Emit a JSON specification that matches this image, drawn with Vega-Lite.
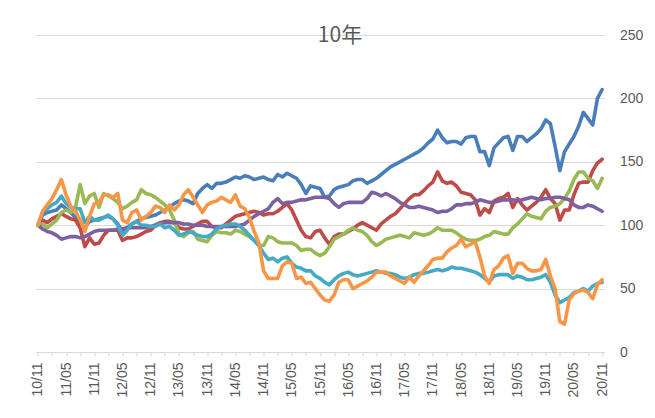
{
"$schema": "https://vega.github.io/schema/vega-lite/v6.json",
"width": 569, "height": 317,
"autosize": {"type": "none"},
"padding": {"left": 35.5, "top": 35, "right": 50.5, "bottom": 66},
"background": "white",
"config": {"view": {"stroke": null}, "font": "Liberation Sans"},
"title": {"text": "10年", "font": "Noto Sans CJK JP", "fontSize": 21, "fontWeight": "normal", "color": "#595959", "anchor": "middle", "baseline": "bottom", "offset": -7, "dx": 20, "dy": 32},
"data": {"values": [
{"d":"10/11","s":"a","v":100},{"d":"10/12","s":"a","v":108},
{"d":"11/01","s":"a","v":110},{"d":"11/02","s":"a","v":111},{"d":"11/03","s":"a","v":112},{"d":"11/04","s":"a","v":116},{"d":"11/05","s":"a","v":113},{"d":"11/06","s":"a","v":110},{"d":"11/07","s":"a","v":106},{"d":"11/08","s":"a","v":100},{"d":"11/09","s":"a","v":98},{"d":"11/10","s":"a","v":103},{"d":"11/11","s":"a","v":104},{"d":"11/12","s":"a","v":105},
{"d":"12/01","s":"a","v":106},{"d":"12/02","s":"a","v":107},{"d":"12/03","s":"a","v":105},{"d":"12/04","s":"a","v":101},{"d":"12/05","s":"a","v":95},{"d":"12/06","s":"a","v":98},{"d":"12/07","s":"a","v":101},{"d":"12/08","s":"a","v":103},{"d":"12/09","s":"a","v":105},{"d":"12/10","s":"a","v":106},{"d":"12/11","s":"a","v":107},{"d":"12/12","s":"a","v":108},
{"d":"13/01","s":"a","v":110},{"d":"13/02","s":"a","v":112},{"d":"13/03","s":"a","v":114},{"d":"13/04","s":"a","v":117},{"d":"13/05","s":"a","v":119},{"d":"13/06","s":"a","v":120},{"d":"13/07","s":"a","v":119},{"d":"13/08","s":"a","v":117},{"d":"13/09","s":"a","v":125},{"d":"13/10","s":"a","v":129},{"d":"13/11","s":"a","v":132},{"d":"13/12","s":"a","v":129},
{"d":"14/01","s":"a","v":133},{"d":"14/02","s":"a","v":133},{"d":"14/03","s":"a","v":134},{"d":"14/04","s":"a","v":136},{"d":"14/05","s":"a","v":138},{"d":"14/06","s":"a","v":137},{"d":"14/07","s":"a","v":139},{"d":"14/08","s":"a","v":138},{"d":"14/09","s":"a","v":136},{"d":"14/10","s":"a","v":137},{"d":"14/11","s":"a","v":138},{"d":"14/12","s":"a","v":136},
{"d":"15/01","s":"a","v":135},{"d":"15/02","s":"a","v":140},{"d":"15/03","s":"a","v":138},{"d":"15/04","s":"a","v":141},{"d":"15/05","s":"a","v":139},{"d":"15/06","s":"a","v":137},{"d":"15/07","s":"a","v":132},{"d":"15/08","s":"a","v":125},{"d":"15/09","s":"a","v":131},{"d":"15/10","s":"a","v":130},{"d":"15/11","s":"a","v":129},{"d":"15/12","s":"a","v":122},
{"d":"16/01","s":"a","v":123},{"d":"16/02","s":"a","v":128},{"d":"16/03","s":"a","v":130},{"d":"16/04","s":"a","v":131},{"d":"16/05","s":"a","v":132},{"d":"16/06","s":"a","v":135},{"d":"16/07","s":"a","v":136},{"d":"16/08","s":"a","v":136},{"d":"16/09","s":"a","v":133},{"d":"16/10","s":"a","v":135},{"d":"16/11","s":"a","v":137},{"d":"16/12","s":"a","v":140},
{"d":"17/01","s":"a","v":143},{"d":"17/02","s":"a","v":146},{"d":"17/03","s":"a","v":148},{"d":"17/04","s":"a","v":150},{"d":"17/05","s":"a","v":152},{"d":"17/06","s":"a","v":154},{"d":"17/07","s":"a","v":156},{"d":"17/08","s":"a","v":158},{"d":"17/09","s":"a","v":161},{"d":"17/10","s":"a","v":165},{"d":"17/11","s":"a","v":168},{"d":"17/12","s":"a","v":175},
{"d":"18/01","s":"a","v":169},{"d":"18/02","s":"a","v":165},{"d":"18/03","s":"a","v":166},{"d":"18/04","s":"a","v":166},{"d":"18/05","s":"a","v":164},{"d":"18/06","s":"a","v":169},{"d":"18/07","s":"a","v":170},{"d":"18/08","s":"a","v":170},{"d":"18/09","s":"a","v":158},{"d":"18/10","s":"a","v":158},{"d":"18/11","s":"a","v":147},{"d":"18/12","s":"a","v":161},
{"d":"19/01","s":"a","v":165},{"d":"19/02","s":"a","v":169},{"d":"19/03","s":"a","v":170},{"d":"19/04","s":"a","v":159},{"d":"19/05","s":"a","v":170},{"d":"19/06","s":"a","v":170},{"d":"19/07","s":"a","v":166},{"d":"19/08","s":"a","v":169},{"d":"19/09","s":"a","v":172},{"d":"19/10","s":"a","v":176},{"d":"19/11","s":"a","v":183},{"d":"19/12","s":"a","v":180},
{"d":"20/01","s":"a","v":162},{"d":"20/02","s":"a","v":143},{"d":"20/03","s":"a","v":158},{"d":"20/04","s":"a","v":164},{"d":"20/05","s":"a","v":170},{"d":"20/06","s":"a","v":178},{"d":"20/07","s":"a","v":189},{"d":"20/08","s":"a","v":184},{"d":"20/09","s":"a","v":179},{"d":"20/10","s":"a","v":200},{"d":"20/11","s":"a","v":207},
{"d":"10/11","s":"b","v":100},{"d":"10/12","s":"b","v":104},
{"d":"11/01","s":"b","v":102},{"d":"11/02","s":"b","v":105},{"d":"11/03","s":"b","v":107},{"d":"11/04","s":"b","v":109},{"d":"11/05","s":"b","v":107},{"d":"11/06","s":"b","v":105},{"d":"11/07","s":"b","v":104},{"d":"11/08","s":"b","v":98},{"d":"11/09","s":"b","v":83},{"d":"11/10","s":"b","v":90},{"d":"11/11","s":"b","v":85},{"d":"11/12","s":"b","v":86},
{"d":"12/01","s":"b","v":92},{"d":"12/02","s":"b","v":96},{"d":"12/03","s":"b","v":96},{"d":"12/04","s":"b","v":96},{"d":"12/05","s":"b","v":88},{"d":"12/06","s":"b","v":90},{"d":"12/07","s":"b","v":90},{"d":"12/08","s":"b","v":91},{"d":"12/09","s":"b","v":93},{"d":"12/10","s":"b","v":95},{"d":"12/11","s":"b","v":96},{"d":"12/12","s":"b","v":100},
{"d":"13/01","s":"b","v":102},{"d":"13/02","s":"b","v":103},{"d":"13/03","s":"b","v":103},{"d":"13/04","s":"b","v":102},{"d":"13/05","s":"b","v":98},{"d":"13/06","s":"b","v":97},{"d":"13/07","s":"b","v":97},{"d":"13/08","s":"b","v":99},{"d":"13/09","s":"b","v":101},{"d":"13/10","s":"b","v":103},{"d":"13/11","s":"b","v":103},{"d":"13/12","s":"b","v":99},
{"d":"14/01","s":"b","v":98},{"d":"14/02","s":"b","v":98},{"d":"14/03","s":"b","v":101},{"d":"14/04","s":"b","v":104},{"d":"14/05","s":"b","v":107},{"d":"14/06","s":"b","v":108},{"d":"14/07","s":"b","v":109},{"d":"14/08","s":"b","v":110},{"d":"14/09","s":"b","v":111},{"d":"14/10","s":"b","v":110},{"d":"14/11","s":"b","v":108},{"d":"14/12","s":"b","v":109},
{"d":"15/01","s":"b","v":109},{"d":"15/02","s":"b","v":111},{"d":"15/03","s":"b","v":114},{"d":"15/04","s":"b","v":117},{"d":"15/05","s":"b","v":112},{"d":"15/06","s":"b","v":104},{"d":"15/07","s":"b","v":96},{"d":"15/08","s":"b","v":91},{"d":"15/09","s":"b","v":90},{"d":"15/10","s":"b","v":95},{"d":"15/11","s":"b","v":96},{"d":"15/12","s":"b","v":90},
{"d":"16/01","s":"b","v":85},{"d":"16/02","s":"b","v":91},{"d":"16/03","s":"b","v":93},{"d":"16/04","s":"b","v":93},{"d":"16/05","s":"b","v":95},{"d":"16/06","s":"b","v":97},{"d":"16/07","s":"b","v":100},{"d":"16/08","s":"b","v":102},{"d":"16/09","s":"b","v":100},{"d":"16/10","s":"b","v":98},{"d":"16/11","s":"b","v":96},{"d":"16/12","s":"b","v":101},
{"d":"17/01","s":"b","v":104},{"d":"17/02","s":"b","v":107},{"d":"17/03","s":"b","v":109},{"d":"17/04","s":"b","v":113},{"d":"17/05","s":"b","v":117},{"d":"17/06","s":"b","v":121},{"d":"17/07","s":"b","v":124},{"d":"17/08","s":"b","v":124},{"d":"17/09","s":"b","v":127},{"d":"17/10","s":"b","v":131},{"d":"17/11","s":"b","v":134},{"d":"17/12","s":"b","v":142},
{"d":"18/01","s":"b","v":135},{"d":"18/02","s":"b","v":133},{"d":"18/03","s":"b","v":134},{"d":"18/04","s":"b","v":131},{"d":"18/05","s":"b","v":126},{"d":"18/06","s":"b","v":125},{"d":"18/07","s":"b","v":124},{"d":"18/08","s":"b","v":120},{"d":"18/09","s":"b","v":108},{"d":"18/10","s":"b","v":113},{"d":"18/11","s":"b","v":110},{"d":"18/12","s":"b","v":119},
{"d":"19/01","s":"b","v":121},{"d":"19/02","s":"b","v":122},{"d":"19/03","s":"b","v":125},{"d":"19/04","s":"b","v":114},{"d":"19/05","s":"b","v":121},{"d":"19/06","s":"b","v":116},{"d":"19/07","s":"b","v":112},{"d":"19/08","s":"b","v":115},{"d":"19/09","s":"b","v":118},{"d":"19/10","s":"b","v":122},{"d":"19/11","s":"b","v":128},{"d":"19/12","s":"b","v":121},
{"d":"20/01","s":"b","v":117},{"d":"20/02","s":"b","v":104},{"d":"20/03","s":"b","v":112},{"d":"20/04","s":"b","v":112},{"d":"20/05","s":"b","v":124},{"d":"20/06","s":"b","v":133},{"d":"20/07","s":"b","v":134},{"d":"20/08","s":"b","v":134},{"d":"20/09","s":"b","v":143},{"d":"20/10","s":"b","v":149},{"d":"20/11","s":"b","v":152},
{"d":"10/11","s":"c","v":100},{"d":"10/12","s":"c","v":101},
{"d":"11/01","s":"c","v":98},{"d":"11/02","s":"c","v":101},{"d":"11/03","s":"c","v":104},{"d":"11/04","s":"c","v":110},{"d":"11/05","s":"c","v":112},{"d":"11/06","s":"c","v":110},{"d":"11/07","s":"c","v":114},{"d":"11/08","s":"c","v":132},{"d":"11/09","s":"c","v":117},{"d":"11/10","s":"c","v":123},{"d":"11/11","s":"c","v":125},{"d":"11/12","s":"c","v":114},
{"d":"12/01","s":"c","v":125},{"d":"12/02","s":"c","v":123},{"d":"12/03","s":"c","v":121},{"d":"12/04","s":"c","v":118},{"d":"12/05","s":"c","v":113},{"d":"12/06","s":"c","v":115},{"d":"12/07","s":"c","v":118},{"d":"12/08","s":"c","v":120},{"d":"12/09","s":"c","v":128},{"d":"12/10","s":"c","v":125},{"d":"12/11","s":"c","v":124},{"d":"12/12","s":"c","v":122},
{"d":"13/01","s":"c","v":119},{"d":"13/02","s":"c","v":116},{"d":"13/03","s":"c","v":112},{"d":"13/04","s":"c","v":104},{"d":"13/05","s":"c","v":93},{"d":"13/06","s":"c","v":91},{"d":"13/07","s":"c","v":94},{"d":"13/08","s":"c","v":95},{"d":"13/09","s":"c","v":89},{"d":"13/10","s":"c","v":88},{"d":"13/11","s":"c","v":87},{"d":"13/12","s":"c","v":92},
{"d":"14/01","s":"c","v":95},{"d":"14/02","s":"c","v":94},{"d":"14/03","s":"c","v":94},{"d":"14/04","s":"c","v":93},{"d":"14/05","s":"c","v":96},{"d":"14/06","s":"c","v":95},{"d":"14/07","s":"c","v":93},{"d":"14/08","s":"c","v":91},{"d":"14/09","s":"c","v":88},{"d":"14/10","s":"c","v":84},{"d":"14/11","s":"c","v":84},{"d":"14/12","s":"c","v":91},
{"d":"15/01","s":"c","v":90},{"d":"15/02","s":"c","v":87},{"d":"15/03","s":"c","v":86},{"d":"15/04","s":"c","v":86},{"d":"15/05","s":"c","v":86},{"d":"15/06","s":"c","v":84},{"d":"15/07","s":"c","v":80},{"d":"15/08","s":"c","v":81},{"d":"15/09","s":"c","v":81},{"d":"15/10","s":"c","v":78},{"d":"15/11","s":"c","v":76},{"d":"15/12","s":"c","v":78},
{"d":"16/01","s":"c","v":83},{"d":"16/02","s":"c","v":89},{"d":"16/03","s":"c","v":91},{"d":"16/04","s":"c","v":93},{"d":"16/05","s":"c","v":96},{"d":"16/06","s":"c","v":98},{"d":"16/07","s":"c","v":96},{"d":"16/08","s":"c","v":95},{"d":"16/09","s":"c","v":92},{"d":"16/10","s":"c","v":87},{"d":"16/11","s":"c","v":84},{"d":"16/12","s":"c","v":86},
{"d":"17/01","s":"c","v":89},{"d":"17/02","s":"c","v":90},{"d":"17/03","s":"c","v":91},{"d":"17/04","s":"c","v":92},{"d":"17/05","s":"c","v":91},{"d":"17/06","s":"c","v":90},{"d":"17/07","s":"c","v":94},{"d":"17/08","s":"c","v":93},{"d":"17/09","s":"c","v":92},{"d":"17/10","s":"c","v":93},{"d":"17/11","s":"c","v":95},{"d":"17/12","s":"c","v":98},
{"d":"18/01","s":"c","v":96},{"d":"18/02","s":"c","v":96},{"d":"18/03","s":"c","v":96},{"d":"18/04","s":"c","v":94},{"d":"18/05","s":"c","v":91},{"d":"18/06","s":"c","v":89},{"d":"18/07","s":"c","v":88},{"d":"18/08","s":"c","v":88},{"d":"18/09","s":"c","v":89},{"d":"18/10","s":"c","v":91},{"d":"18/11","s":"c","v":92},{"d":"18/12","s":"c","v":95},
{"d":"19/01","s":"c","v":94},{"d":"19/02","s":"c","v":93},{"d":"19/03","s":"c","v":93},{"d":"19/04","s":"c","v":98},{"d":"19/05","s":"c","v":101},{"d":"19/06","s":"c","v":105},{"d":"19/07","s":"c","v":109},{"d":"19/08","s":"c","v":107},{"d":"19/09","s":"c","v":106},{"d":"19/10","s":"c","v":105},{"d":"19/11","s":"c","v":111},{"d":"19/12","s":"c","v":114},
{"d":"20/01","s":"c","v":115},{"d":"20/02","s":"c","v":117},{"d":"20/03","s":"c","v":121},{"d":"20/04","s":"c","v":127},{"d":"20/05","s":"c","v":136},{"d":"20/06","s":"c","v":142},{"d":"20/07","s":"c","v":142},{"d":"20/08","s":"c","v":137},{"d":"20/09","s":"c","v":135},{"d":"20/10","s":"c","v":129},{"d":"20/11","s":"c","v":137},
{"d":"10/11","s":"d","v":100},{"d":"10/12","s":"d","v":97},
{"d":"11/01","s":"d","v":95},{"d":"11/02","s":"d","v":94},{"d":"11/03","s":"d","v":92},{"d":"11/04","s":"d","v":89},{"d":"11/05","s":"d","v":90},{"d":"11/06","s":"d","v":91},{"d":"11/07","s":"d","v":91},{"d":"11/08","s":"d","v":90},{"d":"11/09","s":"d","v":91},{"d":"11/10","s":"d","v":93},{"d":"11/11","s":"d","v":95},{"d":"11/12","s":"d","v":96},
{"d":"12/01","s":"d","v":96},{"d":"12/02","s":"d","v":96},{"d":"12/03","s":"d","v":96},{"d":"12/04","s":"d","v":97},{"d":"12/05","s":"d","v":97},{"d":"12/06","s":"d","v":98},{"d":"12/07","s":"d","v":98},{"d":"12/08","s":"d","v":98},{"d":"12/09","s":"d","v":98},{"d":"12/10","s":"d","v":98},{"d":"12/11","s":"d","v":99},{"d":"12/12","s":"d","v":100},
{"d":"13/01","s":"d","v":101},{"d":"13/02","s":"d","v":102},{"d":"13/03","s":"d","v":102},{"d":"13/04","s":"d","v":102},{"d":"13/05","s":"d","v":102},{"d":"13/06","s":"d","v":101},{"d":"13/07","s":"d","v":101},{"d":"13/08","s":"d","v":100},{"d":"13/09","s":"d","v":100},{"d":"13/10","s":"d","v":100},{"d":"13/11","s":"d","v":99},{"d":"13/12","s":"d","v":99},
{"d":"14/01","s":"d","v":99},{"d":"14/02","s":"d","v":99},{"d":"14/03","s":"d","v":99},{"d":"14/04","s":"d","v":99},{"d":"14/05","s":"d","v":99},{"d":"14/06","s":"d","v":100},{"d":"14/07","s":"d","v":101},{"d":"14/08","s":"d","v":104},{"d":"14/09","s":"d","v":107},{"d":"14/10","s":"d","v":109},{"d":"14/11","s":"d","v":111},{"d":"14/12","s":"d","v":113},
{"d":"15/01","s":"d","v":118},{"d":"15/02","s":"d","v":121},{"d":"15/03","s":"d","v":117},{"d":"15/04","s":"d","v":118},{"d":"15/05","s":"d","v":118},{"d":"15/06","s":"d","v":119},{"d":"15/07","s":"d","v":120},{"d":"15/08","s":"d","v":120},{"d":"15/09","s":"d","v":121},{"d":"15/10","s":"d","v":122},{"d":"15/11","s":"d","v":122},{"d":"15/12","s":"d","v":122},
{"d":"16/01","s":"d","v":121},{"d":"16/02","s":"d","v":117},{"d":"16/03","s":"d","v":114},{"d":"16/04","s":"d","v":117},{"d":"16/05","s":"d","v":118},{"d":"16/06","s":"d","v":118},{"d":"16/07","s":"d","v":118},{"d":"16/08","s":"d","v":118},{"d":"16/09","s":"d","v":121},{"d":"16/10","s":"d","v":126},{"d":"16/11","s":"d","v":125},{"d":"16/12","s":"d","v":123},
{"d":"17/01","s":"d","v":125},{"d":"17/02","s":"d","v":123},{"d":"17/03","s":"d","v":121},{"d":"17/04","s":"d","v":118},{"d":"17/05","s":"d","v":116},{"d":"17/06","s":"d","v":114},{"d":"17/07","s":"d","v":114},{"d":"17/08","s":"d","v":115},{"d":"17/09","s":"d","v":114},{"d":"17/10","s":"d","v":113},{"d":"17/11","s":"d","v":112},{"d":"17/12","s":"d","v":110},
{"d":"18/01","s":"d","v":111},{"d":"18/02","s":"d","v":111},{"d":"18/03","s":"d","v":113},{"d":"18/04","s":"d","v":116},{"d":"18/05","s":"d","v":116},{"d":"18/06","s":"d","v":117},{"d":"18/07","s":"d","v":117},{"d":"18/08","s":"d","v":118},{"d":"18/09","s":"d","v":120},{"d":"18/10","s":"d","v":119},{"d":"18/11","s":"d","v":118},{"d":"18/12","s":"d","v":118},
{"d":"19/01","s":"d","v":119},{"d":"19/02","s":"d","v":120},{"d":"19/03","s":"d","v":120},{"d":"19/04","s":"d","v":120},{"d":"19/05","s":"d","v":119},{"d":"19/06","s":"d","v":120},{"d":"19/07","s":"d","v":121},{"d":"19/08","s":"d","v":122},{"d":"19/09","s":"d","v":121},{"d":"19/10","s":"d","v":120},{"d":"19/11","s":"d","v":121},{"d":"19/12","s":"d","v":121},
{"d":"20/01","s":"d","v":122},{"d":"20/02","s":"d","v":122},{"d":"20/03","s":"d","v":121},{"d":"20/04","s":"d","v":120},{"d":"20/05","s":"d","v":116},{"d":"20/06","s":"d","v":114},{"d":"20/07","s":"d","v":114},{"d":"20/08","s":"d","v":116},{"d":"20/09","s":"d","v":115},{"d":"20/10","s":"d","v":113},{"d":"20/11","s":"d","v":111},
{"d":"10/11","s":"e","v":100},{"d":"10/12","s":"e","v":110},
{"d":"11/01","s":"e","v":113},{"d":"11/02","s":"e","v":116},{"d":"11/03","s":"e","v":118},{"d":"11/04","s":"e","v":123},{"d":"11/05","s":"e","v":117},{"d":"11/06","s":"e","v":114},{"d":"11/07","s":"e","v":113},{"d":"11/08","s":"e","v":113},{"d":"11/09","s":"e","v":102},{"d":"11/10","s":"e","v":107},{"d":"11/11","s":"e","v":104},{"d":"11/12","s":"e","v":104},
{"d":"12/01","s":"e","v":106},{"d":"12/02","s":"e","v":108},{"d":"12/03","s":"e","v":105},{"d":"12/04","s":"e","v":100},{"d":"12/05","s":"e","v":92},{"d":"12/06","s":"e","v":96},{"d":"12/07","s":"e","v":101},{"d":"12/08","s":"e","v":103},{"d":"12/09","s":"e","v":100},{"d":"12/10","s":"e","v":100},{"d":"12/11","s":"e","v":99},{"d":"12/12","s":"e","v":99},
{"d":"13/01","s":"e","v":101},{"d":"13/02","s":"e","v":98},{"d":"13/03","s":"e","v":99},{"d":"13/04","s":"e","v":96},{"d":"13/05","s":"e","v":92},{"d":"13/06","s":"e","v":93},{"d":"13/07","s":"e","v":95},{"d":"13/08","s":"e","v":94},{"d":"13/09","s":"e","v":92},{"d":"13/10","s":"e","v":91},{"d":"13/11","s":"e","v":91},{"d":"13/12","s":"e","v":93},
{"d":"14/01","s":"e","v":97},{"d":"14/02","s":"e","v":99},{"d":"14/03","s":"e","v":100},{"d":"14/04","s":"e","v":101},{"d":"14/05","s":"e","v":101},{"d":"14/06","s":"e","v":99},{"d":"14/07","s":"e","v":96},{"d":"14/08","s":"e","v":92},{"d":"14/09","s":"e","v":88},{"d":"14/10","s":"e","v":84},{"d":"14/11","s":"e","v":78},{"d":"14/12","s":"e","v":73},
{"d":"15/01","s":"e","v":74},{"d":"15/02","s":"e","v":71},{"d":"15/03","s":"e","v":74},{"d":"15/04","s":"e","v":75},{"d":"15/05","s":"e","v":70},{"d":"15/06","s":"e","v":67},{"d":"15/07","s":"e","v":66},{"d":"15/08","s":"e","v":64},{"d":"15/09","s":"e","v":64},{"d":"15/10","s":"e","v":60},{"d":"15/11","s":"e","v":58},{"d":"15/12","s":"e","v":55},
{"d":"16/01","s":"e","v":53},{"d":"16/02","s":"e","v":57},{"d":"16/03","s":"e","v":60},{"d":"16/04","s":"e","v":62},{"d":"16/05","s":"e","v":63},{"d":"16/06","s":"e","v":61},{"d":"16/07","s":"e","v":60},{"d":"16/08","s":"e","v":61},{"d":"16/09","s":"e","v":62},{"d":"16/10","s":"e","v":63},{"d":"16/11","s":"e","v":64},{"d":"16/12","s":"e","v":63},
{"d":"17/01","s":"e","v":62},{"d":"17/02","s":"e","v":62},{"d":"17/03","s":"e","v":61},{"d":"17/04","s":"e","v":59},{"d":"17/05","s":"e","v":58},{"d":"17/06","s":"e","v":59},{"d":"17/07","s":"e","v":61},{"d":"17/08","s":"e","v":62},{"d":"17/09","s":"e","v":62},{"d":"17/10","s":"e","v":63},{"d":"17/11","s":"e","v":64},{"d":"17/12","s":"e","v":65},
{"d":"18/01","s":"e","v":64},{"d":"18/02","s":"e","v":65},{"d":"18/03","s":"e","v":67},{"d":"18/04","s":"e","v":66},{"d":"18/05","s":"e","v":66},{"d":"18/06","s":"e","v":65},{"d":"18/07","s":"e","v":64},{"d":"18/08","s":"e","v":63},{"d":"18/09","s":"e","v":61},{"d":"18/10","s":"e","v":58},{"d":"18/11","s":"e","v":55},{"d":"18/12","s":"e","v":60},
{"d":"19/01","s":"e","v":61},{"d":"19/02","s":"e","v":61},{"d":"19/03","s":"e","v":61},{"d":"19/04","s":"e","v":58},{"d":"19/05","s":"e","v":60},{"d":"19/06","s":"e","v":59},{"d":"19/07","s":"e","v":57},{"d":"19/08","s":"e","v":57},{"d":"19/09","s":"e","v":58},{"d":"19/10","s":"e","v":59},{"d":"19/11","s":"e","v":61},{"d":"19/12","s":"e","v":55},
{"d":"20/01","s":"e","v":45},{"d":"20/02","s":"e","v":39},{"d":"20/03","s":"e","v":41},{"d":"20/04","s":"e","v":43},{"d":"20/05","s":"e","v":47},{"d":"20/06","s":"e","v":48},{"d":"20/07","s":"e","v":50},{"d":"20/08","s":"e","v":48},{"d":"20/09","s":"e","v":52},{"d":"20/10","s":"e","v":54},{"d":"20/11","s":"e","v":55},
{"d":"10/11","s":"f","v":100},{"d":"10/12","s":"f","v":111},
{"d":"11/01","s":"f","v":116},{"d":"11/02","s":"f","v":121},{"d":"11/03","s":"f","v":128},{"d":"11/04","s":"f","v":136},{"d":"11/05","s":"f","v":124},{"d":"11/06","s":"f","v":115},{"d":"11/07","s":"f","v":111},{"d":"11/08","s":"f","v":104},{"d":"11/09","s":"f","v":95},{"d":"11/10","s":"f","v":107},{"d":"11/11","s":"f","v":117},{"d":"11/12","s":"f","v":118},
{"d":"12/01","s":"f","v":124},{"d":"12/02","s":"f","v":124},{"d":"12/03","s":"f","v":122},{"d":"12/04","s":"f","v":125},{"d":"12/05","s":"f","v":104},{"d":"12/06","s":"f","v":102},{"d":"12/07","s":"f","v":110},{"d":"12/08","s":"f","v":112},{"d":"12/09","s":"f","v":104},{"d":"12/10","s":"f","v":107},{"d":"12/11","s":"f","v":110},{"d":"12/12","s":"f","v":115},
{"d":"13/01","s":"f","v":114},{"d":"13/02","s":"f","v":110},{"d":"13/03","s":"f","v":116},{"d":"13/04","s":"f","v":112},{"d":"13/05","s":"f","v":116},{"d":"13/06","s":"f","v":124},{"d":"13/07","s":"f","v":128},{"d":"13/08","s":"f","v":122},{"d":"13/09","s":"f","v":116},{"d":"13/10","s":"f","v":110},{"d":"13/11","s":"f","v":116},{"d":"13/12","s":"f","v":118},
{"d":"14/01","s":"f","v":119},{"d":"14/02","s":"f","v":122},{"d":"14/03","s":"f","v":120},{"d":"14/04","s":"f","v":118},{"d":"14/05","s":"f","v":124},{"d":"14/06","s":"f","v":115},{"d":"14/07","s":"f","v":113},{"d":"14/08","s":"f","v":106},{"d":"14/09","s":"f","v":95},{"d":"14/10","s":"f","v":86},{"d":"14/11","s":"f","v":64},{"d":"14/12","s":"f","v":58},
{"d":"15/01","s":"f","v":58},{"d":"15/02","s":"f","v":58},{"d":"15/03","s":"f","v":68},{"d":"15/04","s":"f","v":71},{"d":"15/05","s":"f","v":70},{"d":"15/06","s":"f","v":58},{"d":"15/07","s":"f","v":59},{"d":"15/08","s":"f","v":54},{"d":"15/09","s":"f","v":55},{"d":"15/10","s":"f","v":50},{"d":"15/11","s":"f","v":45},{"d":"15/12","s":"f","v":41},
{"d":"16/01","s":"f","v":40},{"d":"16/02","s":"f","v":45},{"d":"16/03","s":"f","v":55},{"d":"16/04","s":"f","v":57},{"d":"16/05","s":"f","v":57},{"d":"16/06","s":"f","v":50},{"d":"16/07","s":"f","v":52},{"d":"16/08","s":"f","v":54},{"d":"16/09","s":"f","v":56},{"d":"16/10","s":"f","v":59},{"d":"16/11","s":"f","v":63},{"d":"16/12","s":"f","v":63},
{"d":"17/01","s":"f","v":63},{"d":"17/02","s":"f","v":60},{"d":"17/03","s":"f","v":58},{"d":"17/04","s":"f","v":56},{"d":"17/05","s":"f","v":54},{"d":"17/06","s":"f","v":59},{"d":"17/07","s":"f","v":55},{"d":"17/08","s":"f","v":60},{"d":"17/09","s":"f","v":64},{"d":"17/10","s":"f","v":68},{"d":"17/11","s":"f","v":73},{"d":"17/12","s":"f","v":74},
{"d":"18/01","s":"f","v":74},{"d":"18/02","s":"f","v":79},{"d":"18/03","s":"f","v":82},{"d":"18/04","s":"f","v":84},{"d":"18/05","s":"f","v":89},{"d":"18/06","s":"f","v":83},{"d":"18/07","s":"f","v":85},{"d":"18/08","s":"f","v":87},{"d":"18/09","s":"f","v":75},{"d":"18/10","s":"f","v":60},{"d":"18/11","s":"f","v":54},{"d":"18/12","s":"f","v":65},
{"d":"19/01","s":"f","v":68},{"d":"19/02","s":"f","v":74},{"d":"19/03","s":"f","v":76},{"d":"19/04","s":"f","v":62},{"d":"19/05","s":"f","v":70},{"d":"19/06","s":"f","v":70},{"d":"19/07","s":"f","v":66},{"d":"19/08","s":"f","v":64},{"d":"19/09","s":"f","v":64},{"d":"19/10","s":"f","v":65},{"d":"19/11","s":"f","v":73},{"d":"19/12","s":"f","v":60},
{"d":"20/01","s":"f","v":50},{"d":"20/02","s":"f","v":24},{"d":"20/03","s":"f","v":22},{"d":"20/04","s":"f","v":41},{"d":"20/05","s":"f","v":46},{"d":"20/06","s":"f","v":48},{"d":"20/07","s":"f","v":49},{"d":"20/08","s":"f","v":47},{"d":"20/09","s":"f","v":42},{"d":"20/10","s":"f","v":53},{"d":"20/11","s":"f","v":57}
]},
"mark": {"type": "line", "strokeWidth": 3.6, "strokeCap": "round", "strokeJoin": "round"},
"encoding": {
"x": {"field": "d", "type": "ordinal", "scale": {"type": "point", "padding": 0.5},
 "axis": {"title": null, "values": ["10/11","11/02","11/05","11/08","11/11","12/02","12/05","12/08","12/11","13/02","13/05","13/08","13/11","14/02","14/05","14/08","14/11","15/02","15/05","15/08","15/11","16/02","16/05","16/08","16/11","17/02","17/05","17/08","17/11","18/02","18/05","18/08","18/11","19/02","19/05","19/08","19/11","20/02","20/05","20/08","20/11"],
 "labelExpr": "indexof(['05','11'], slice(datum.label, 3)) >= 0 ? datum.label : ''",
 "labelAngle": -90, "labelFontSize": 14, "labelColor": "#595959", "labelPadding": 6, "labelOverlap": false,
 "tickSize": 4, "tickColor": "#d9d9d9", "domainColor": "#d9d9d9", "grid": false}},
"y": {"field": "v", "type": "quantitative", "scale": {"domain": [0, 250]},
 "axis": {"orient": "right", "title": null, "values": [0,50,100,150,200,250], "grid": true, "gridColor": "#d9d9d9", "domain": false, "ticks": false, "tickSize": 0, "labelPadding": 15, "labelFontSize": 14, "labelColor": "#595959"}},
"color": {"field": "s", "type": "nominal", "scale": {"domain": ["a","b","c","d","e","f"], "range": ["#4A7EBB","#BE4B48","#98B954","#7D60A0","#46AAC5","#F79646"]}, "legend": null}
}
}
